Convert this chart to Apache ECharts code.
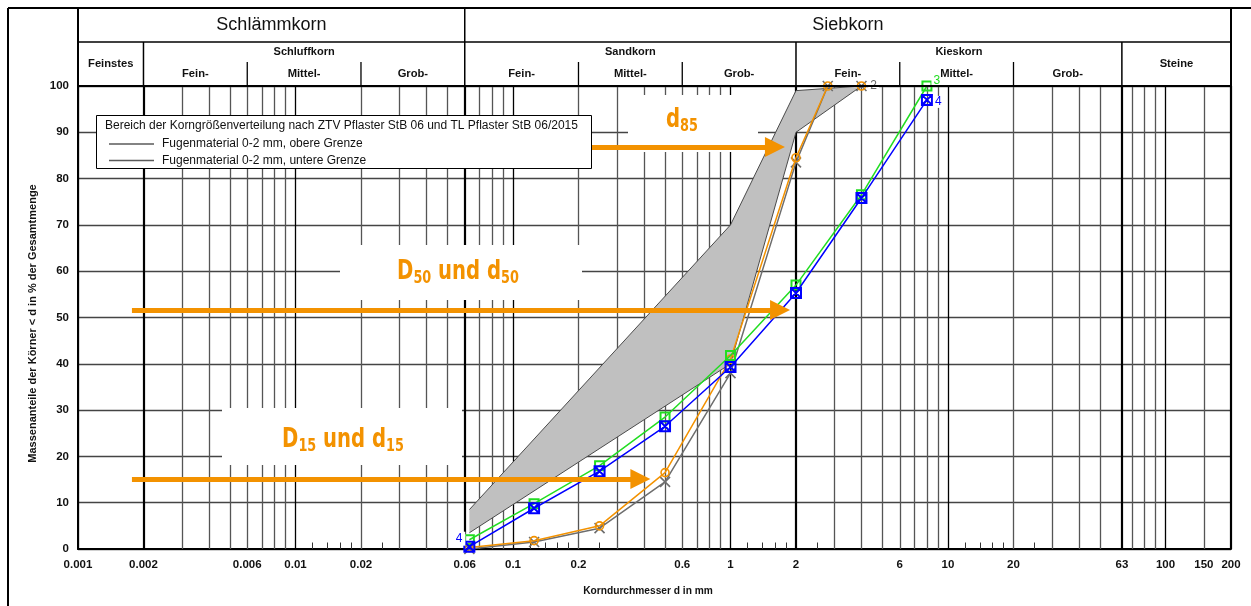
<!DOCTYPE html>
<html>
<head>
<meta charset="utf-8">
<script src="https://cdn.jsdelivr.net/npm/echarts@6/dist/echarts.min.js"></script>
<style>
  html, body { margin: 0; padding: 0; background: #fff; }
  #chart { width: 1251px; height: 606px; }
</style>
</head>
<body>
<div id="chart"></div>
<script>
// Siebdurchgang in % je Siebweite (mm)
const sieveA = [0.063, 0.125, 0.25, 0.5, 1, 2, 2.8, 4];
const curve1 = [0, 1.5, 4.5, 14.5, 38, 83.5, 100, 100];
const curve2 = [0.3, 1.8, 5, 16.5, 41, 84.5, 100, 100];
const sieveB = [0.063, 0.125, 0.25, 0.5, 1, 2, 4, 8];
const curve3 = [2, 9.8, 18, 28.5, 41.8, 57, 76.5, 100];
const curve4 = [0.5, 8.8, 16.8, 26.5, 39.3, 55.3, 75.8, 97];

// Grenzen Fugenmaterial 0-2 mm
const limitSieves = [0.063, 1, 2, 4];
const upperLimit = [8.5, 70, 99, 100];
const lowerLimit = [3.5, 40, 90, 100];

// Achsen
const xTickLabels = [0.001, 0.002, 0.006, 0.01, 0.02, 0.06, 0.1, 0.2, 0.6, 1, 2, 6, 10, 20, 63, 100, 150, 200];
const decades = [0.001, 0.01, 0.1, 1, 10, 100];
const boldLines = [0.002, 0.06, 2, 63, 200];
const thinLines = [
  0.003, 0.004, 0.005, 0.006, 0.007, 0.008, 0.009,
  0.02, 0.03, 0.04, 0.05, 0.07, 0.08, 0.09,
  0.2, 0.3, 0.4, 0.5, 0.6, 0.7, 0.8, 0.9,
  3, 4, 5, 6, 7, 8, 9,
  20, 30, 40, 50, 70, 80, 90,
  150
];
const shortTicks = [
  0.012, 0.014, 0.016, 0.018, 0.025,
  0.12, 0.14, 0.16, 0.18, 0.25,
  1.2, 1.4, 1.6, 1.8, 2.5,
  12, 14, 16, 18, 25
];

// Kennwerte-Pfeile: [von d, bis d, Durchgang %]
const arrowD15 = [0.00177, 0.385, 15.1];
const arrowD50 = [0.00177, 1.69, 51.6];
const arrowD85 = [0.226, 1.6, 86.8];

const orange = '#f39200';
const font = '"Liberation Sans", Arial, sans-serif';
const narrow = '"Liberation Sans Narrow", "DejaVu Sans Condensed", "Liberation Sans", sans-serif';

const pairs = (xs, ys) => xs.map((x, i) => [x, ys[i]]);

function withEndLabel(data, text, color, pos) {
  const last = data.length - 1;
  data[last] = {
    value: data[last],
    label: {
      show: true, formatter: text, color: color, fontSize: 12, fontFamily: font,
      position: pos, distance: 2, backgroundColor: '#fff', padding: [0, 2]
    }
  };
  return data;
}

const chart = echarts.init(document.getElementById('chart'));

const vLine = (v, color, width) => [
  {coord: [v, 0]},
  {coord: [v, 100], lineStyle: {color: color, width: width, type: 'solid'}}
];
const gridData = []
  .concat(thinLines.map(v => vLine(v, '#555', 1.3)))
  .concat(decades.map(v => vLine(v, '#000', 1.3)))
  .concat(boldLines.map(v => vLine(v, '#000', 2.2)))
  .concat(shortTicks.map(v => [{coord: [v, 0]}, {coord: [v, 1.4], lineStyle: {color: '#333', width: 1, type: 'solid'}}]));

const arrowLine = (a) => [{coord: [a[0], a[2]]}, {coord: [a[1], a[2]]}];

const blueData = withEndLabel(pairs(sieveB, curve4), '4', '#0000ff', [12, 2]);
blueData[0] = {
  value: blueData[0],
  label: {
    show: true, formatter: '4', color: '#0000ff', fontSize: 12, fontFamily: font,
    position: 'left', distance: 0, offset: [2, -8], backgroundColor: '#fff', padding: [1, 3]
  }
};

const option = {
  animation: false,
  backgroundColor: '#fff',
  textStyle: {fontFamily: font},
  grid: {left: 78, right: 20, top: 86, bottom: 57, containLabel: false},
  legend: {
    orient: 'vertical', left: 104, top: 132, z: 20,
    icon: 'rect', itemWidth: 45, itemHeight: 1.5, itemGap: 2.5,
    textStyle: {fontSize: 12, color: '#111', fontFamily: font, lineHeight: 14, padding: [0, 0, 0, 3]},
    selectedMode: false,
    data: ['Fugenmaterial 0-2 mm, obere Grenze', 'Fugenmaterial 0-2 mm, untere Grenze']
  },
  xAxis: {
    type: 'log', logBase: 10, min: 0.001, max: 200,
    name: 'Korndurchmesser d in mm', nameLocation: 'middle', nameGap: 37,
    nameTextStyle: {fontSize: 10.2, fontWeight: 'bold', color: '#111', padding: [0, 13, 0, 0]},
    axisLine: {show: true, lineStyle: {color: '#000', width: 2}},
    axisTick: {show: false},
    splitLine: {show: false},
    axisLabel: {
      customValues: xTickLabels, fontSize: 11.5, fontWeight: 'bold', color: '#111', margin: 10,
      formatter: v => String(Number(Number(v).toPrecision(3)))
    }
  },
  yAxis: {
    type: 'value', min: 0, max: 100, interval: 10,
    name: 'Massenanteile der Körner < d in % der Gesamtmenge', nameLocation: 'middle',
    nameGap: 40, nameRotate: 90,
    nameTextStyle: {fontSize: 11, fontWeight: 'bold', color: '#111', padding: [0, 12, 0, 0]},
    axisLine: {show: true, lineStyle: {color: '#000', width: 2}},
    axisTick: {show: false},
    axisLabel: {fontSize: 11.5, fontWeight: 'bold', color: '#111', margin: 9},
    splitLine: {show: true, lineStyle: {color: '#444', width: 1.3}}
  },
  series: [
    {
      type: 'line', data: [], z: 1, silent: true,
      markLine: {silent: true, z: 1, symbol: 'none', animation: false, label: {show: false},
        lineStyle: {type: 'solid'}, data: gridData}
    },
    {
      type: 'custom', z: 2, silent: true,
      data: [[limitSieves[0], upperLimit[0]]],
      encode: {x: 0, y: 1},
      renderItem: (params, api) => {
        const top = limitSieves.map((d, i) => api.coord([d, upperLimit[i]]));
        const bottom = limitSieves.map((d, i) => api.coord([d, lowerLimit[i]])).reverse();
        return {type: 'polygon', shape: {points: top.concat(bottom)}, style: {fill: '#c0c0c0'}};
      }
    },
    {
      name: 'Fugenmaterial 0-2 mm, obere Grenze', type: 'line', z: 3, silent: true,
      data: pairs(limitSieves, upperLimit), symbol: 'none', color: '#5a5a5a',
      lineStyle: {color: '#4a4a4a', width: 1}
    },
    {
      name: 'Fugenmaterial 0-2 mm, untere Grenze', type: 'line', z: 3, silent: true,
      data: pairs(limitSieves, lowerLimit), symbol: 'none', color: '#5a5a5a',
      lineStyle: {color: '#4a4a4a', width: 1}
    },
    {
      name: 'Kurve 1', type: 'line', z: 6, silent: true,
      data: pairs(sieveA, curve1),
      symbol: 'path://M0,0L10,10M10,0L0,10', symbolSize: 10,
      itemStyle: {color: 'transparent', borderColor: '#6e6e6e', borderWidth: 1.6},
      lineStyle: {color: '#6e6e6e', width: 1.5}
    },
    {
      name: 'Kurve 2', type: 'line', z: 7, silent: true,
      data: withEndLabel(pairs(sieveA, curve2), '2', '#666', 'right'),
      symbol: 'circle', symbolSize: 8,
      itemStyle: {color: 'rgba(255,255,255,0)', borderColor: orange, borderWidth: 1.6},
      lineStyle: {color: orange, width: 1.5}
    },
    {
      name: 'Kurve 3', type: 'line', z: 8, silent: true,
      data: withEndLabel(pairs(sieveB, curve3), '3', '#22dd22', [10, -6]),
      symbol: 'path://M0,0H10V10H0Z', symbolSize: 9,
      itemStyle: {color: 'rgba(255,255,255,0)', borderColor: '#22dd22', borderWidth: 2},
      lineStyle: {color: '#22dd22', width: 1.5}
    },
    {
      name: 'Kurve 4', type: 'line', z: 9, silent: true,
      data: blueData,
      symbol: 'path://M0,0H10V10H0ZM0,0L10,10M10,0L0,10', symbolSize: 10,
      itemStyle: {color: 'rgba(255,255,255,0)', borderColor: '#0000ff', borderWidth: 2},
      lineStyle: {color: '#0000ff', width: 1.5}
    },
    {
      type: 'line', data: [], z: 12, silent: true,
      markLine: {
        silent: true, z: 12, animation: false, symbol: ['none', 'triangle'], symbolSize: 20,
        label: {show: false},
        lineStyle: {color: orange, width: 5, type: 'solid', opacity: 1},
        data: [arrowLine(arrowD15), arrowLine(arrowD50), arrowLine(arrowD85)]
      }
    }
  ]
};

chart.setOption(option);

function buildGraphics() {
  const X = v => chart.convertToPixel({xAxisIndex: 0}, v);
  const Y = v => chart.convertToPixel({yAxisIndex: 0}, v);
  const yTop = Y(100), y0 = 8, y1 = 42, ySub = 62;
  const g = [];
  const line = (x1, ya, x2, yb, w) => g.push({
    type: 'line', silent: true, z: 30,
    shape: {x1: x1, y1: ya, x2: x2, y2: yb}, style: {stroke: '#000', lineWidth: w || 1.3}
  });
  const text = (x, y, t, size, extra) => g.push({
    type: 'text', silent: true, z: 31, x: x, y: y,
    style: Object.assign({text: t, fontSize: size, fontFamily: font, fill: '#111',
      align: 'center', verticalAlign: 'middle'}, extra || {})
  });
  const mid = (a, b) => (X(a) + X(b)) / 2;
  const bold = {fontWeight: 'bold'};

  // Rahmen
  line(8, 8, 1251, 8, 2);
  line(8, 8, 8, 606, 2);
  // Kopftabelle
  line(X(0.001), y0, X(0.001), yTop, 2);
  line(X(200), y0, X(200), yTop, 2);
  line(X(0.001), y1, X(200), y1, 1.3);
  line(X(0.001), yTop, X(200), yTop, 2.2);
  line(X(0.06), y0, X(0.06), yTop, 1.5);
  [0.002, 2, 63].forEach(v => line(X(v), y1, X(v), yTop, 1.5));
  [0.006, 0.02, 0.2, 0.6, 6, 20].forEach(v => line(X(v), ySub, X(v), yTop, 1.3));

  text(mid(0.001, 0.06), 25, 'Schlämmkorn', 18);
  text(mid(0.06, 200), 25, 'Siebkorn', 18);
  text(mid(0.001, 0.002), 64, 'Feinstes', 11.2, bold);
  text(mid(0.002, 0.06), 52, 'Schluffkorn', 11, bold);
  text(mid(0.06, 2), 52, 'Sandkorn', 11, bold);
  text(mid(2, 63), 52, 'Kieskorn', 11, bold);
  text(mid(63, 200), 64, 'Steine', 11.2, bold);
  [[0.002, 0.006, 0.02, 0.06], [0.06, 0.2, 0.6, 2], [2, 6, 20, 63]].forEach(b => {
    text(mid(b[0], b[1]), 74, 'Fein-', 11.2, bold);
    text(mid(b[1], b[2]), 74, 'Mittel-', 11.2, bold);
    text(mid(b[2], b[3]), 74, 'Grob-', 11.2, bold);
  });

  // Legendenkasten
  g.push({type: 'rect', silent: true, z: 15, shape: {x: 96.5, y: 115.5, width: 495, height: 53},
    style: {fill: '#fff', stroke: '#000', lineWidth: 1}});
  text(105, 126, 'Bereich der Korngrößenverteilung nach ZTV Pflaster StB 06 und TL Pflaster StB 06/2015', 12,
    {align: 'left'});

  // weiße Flächen hinter den Beschriftungen
  const box = (x, y, w, h) => g.push({type: 'rect', silent: true, z: 5,
    shape: {x: x, y: y, width: w, height: h}, style: {fill: '#fff'}});
  box(628, 95, 130, 57);
  box(340, 245, 242, 55);
  box(222, 408, 240, 57);

  const main = {fontSize: 26, fontWeight: 'bold', fontFamily: narrow, fill: orange, lineHeight: 26};
  const sub = {fontSize: 17, fontWeight: 'bold', fontFamily: narrow, fill: orange, lineHeight: 17,
    padding: [14, 0, 0, 0]};
  const dText = (x, y, t) => g.push({
    type: 'text', silent: true, z: 32, x: x, y: y, scaleX: 0.84,
    style: {text: t, align: 'center', verticalAlign: 'middle', rich: {m: main, s: sub}}
  });
  dText(682, 120, '{m|d}{s|85}');
  dText(458, 272, '{m|D}{s|50}{m| und d}{s|50}');
  dText(343, 440, '{m|D}{s|15}{m| und d}{s|15}');
  return g;
}

chart.setOption({graphic: buildGraphics()});
</script>
</body>
</html>
